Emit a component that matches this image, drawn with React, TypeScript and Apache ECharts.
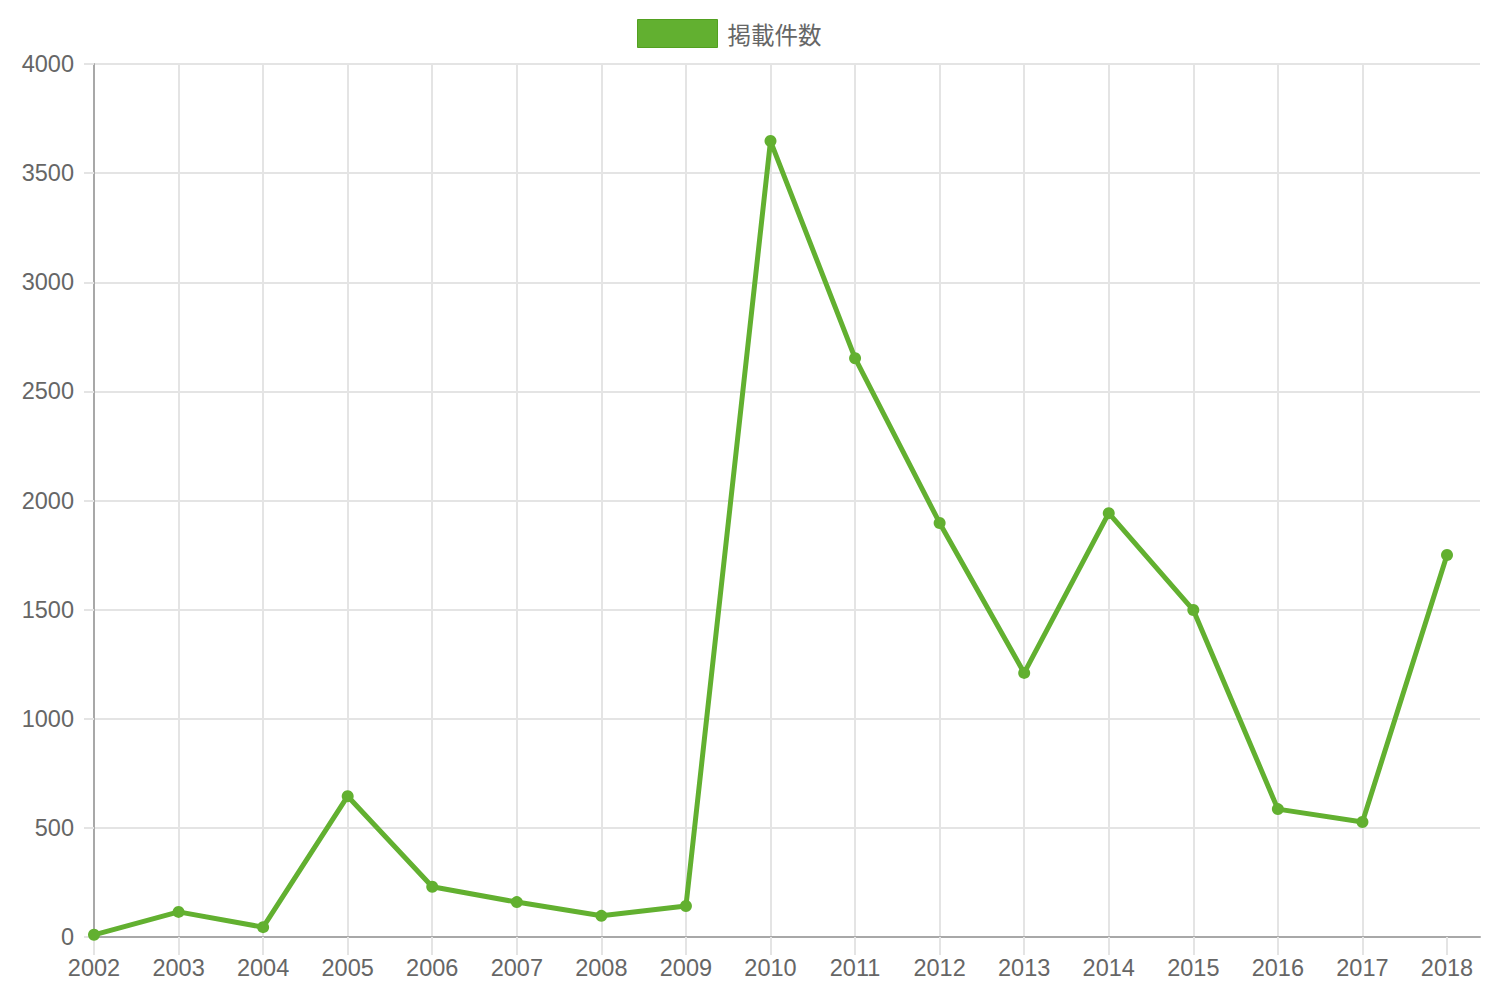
import React, { useEffect, useRef } from "react";
import * as echarts from "echarts";

const years = [2002, 2003, 2004, 2005, 2006, 2007, 2008, 2009, 2010, 2011, 2012, 2013, 2014, 2015, 2016, 2017, 2018];
const counts = [10, 115, 45, 645, 230, 160, 97, 142, 3647, 2652, 1897, 1210, 1942, 1498, 586, 527, 1750];
const seriesName = "掲載件数";
const yTicks = [0, 500, 1000, 1500, 2000, 2500, 3000, 3500, 4000];

const GREEN = "#62b030";
const FONT = "'Liberation Sans', Arial, 'Noto Sans CJK JP', sans-serif";

export default function App() {
  const ref = useRef<HTMLDivElement>(null);
  useEffect(() => {
    document.body.style.margin = "0";
    const chart = echarts.init(ref.current!, null, { renderer: "svg" });
    const data = years.map((y, i) => [y, counts[i]]);
    chart.setOption({
      animation: false,
      textStyle: { fontFamily: FONT },
      legend: {
        top: 19,
        left: 637,
        padding: 0,
        itemWidth: 80,
        itemHeight: 28,
        itemGap: 10,
        icon: "rect",
        data: [{ name: seriesName, icon: "rect", itemStyle: { color: GREEN, borderColor: "#52a020", borderWidth: 1 } }],
        textStyle: { fontSize: 23.5, color: "#666", fontFamily: "'Noto Sans CJK JP', sans-serif", padding: [0, 0, 0, 5] },
      },
      grid: { left: 94, right: 20, top: 64, bottom: 57, containLabel: false },
      xAxis: {
        type: "value",
        min: years[0],
        max: years[0] + 1386 / ((1447 - 94) / 16),
        interval: 1,
        axisLine: { show: true, onZero: false, lineStyle: { color: "#a8a8a8", width: 2 } },
        axisTick: { show: true, length: 18, customValues: years, lineStyle: { color: "#e4e4e4", width: 2 } },
        axisLabel: {
          customValues: years,
          margin: 19,
          fontSize: 23.5,
          color: "#666",
          fontFamily: FONT,
          formatter: (v: number) => String(Math.round(v)),
        },
        splitLine: { show: true, showMaxLine: false, lineStyle: { color: "#e4e4e4", width: 2 } },
      },
      yAxis: {
        type: "value",
        min: yTicks[0],
        max: yTicks[yTicks.length - 1],
        interval: 500,
        axisLine: { show: true, lineStyle: { color: "#a8a8a8", width: 2 } },
        axisTick: { show: true, length: 10, lineStyle: { color: "#e4e4e4", width: 2 } },
        axisLabel: { margin: 20, fontSize: 23.5, color: "#666", fontFamily: FONT, formatter: (v: number) => String(v) },
        splitLine: { show: true, lineStyle: { color: "#e4e4e4", width: 2 } },
      },
      series: [
        {
          name: seriesName,
          type: "line",
          data,
          symbol: "circle",
          symbolSize: 12,
          lineStyle: { color: GREEN, width: 5 },
          itemStyle: { color: GREEN },
          z: 3,
        },
      ],
    });
    return () => chart.dispose();
  }, []);
  return <div ref={ref} style={{ width: 1500, height: 994 }} />;
}
